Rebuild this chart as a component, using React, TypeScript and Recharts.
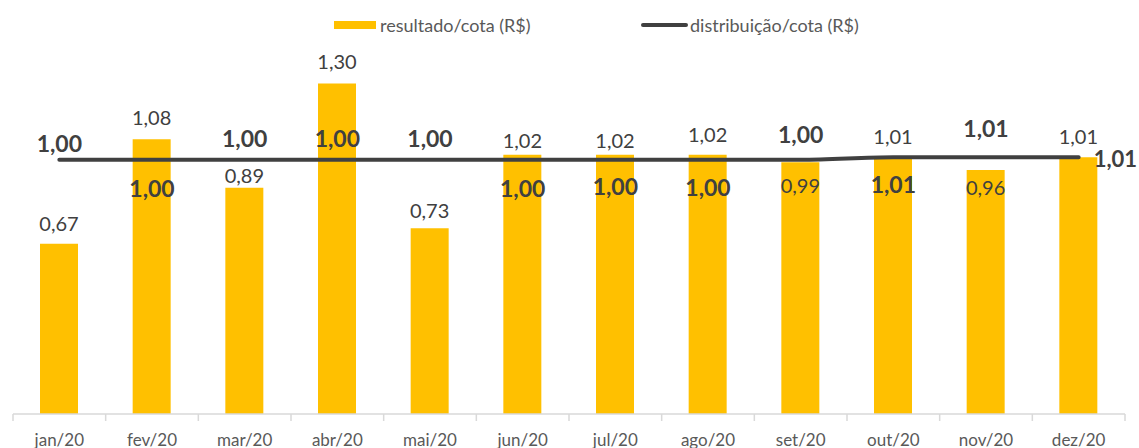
import React from 'react';
import { ComposedChart, Bar, Line, XAxis, YAxis, LabelList } from 'recharts';

const months = ['jan/20', 'fev/20', 'mar/20', 'abr/20', 'mai/20', 'jun/20', 'jul/20', 'ago/20', 'set/20', 'out/20', 'nov/20', 'dez/20'];
const resultadoCota = [0.67, 1.08, 0.89, 1.3, 0.73, 1.02, 1.02, 1.02, 0.99, 1.01, 0.96, 1.01];
const distribuicaoCota = [1.0, 1.0, 1.0, 1.0, 1.0, 1.0, 1.0, 1.0, 1.0, 1.01, 1.01, 1.01];

// label placement (style only)
const barLabelDy = [-21, -22, -13, -22, -18, -15, -15, -21, 23, -21, 17, -21];
const lineLabelOffset: [number, number, string][] = [
  [0, -17, 'middle'], [0, 28, 'middle'], [0, -22, 'middle'], [0, -22, 'middle'],
  [0, -22, 'middle'], [0, 28, 'middle'], [0, 26, 'middle'], [0, 27, 'middle'],
  [0, -26, 'middle'], [0, 27, 'middle'], [0, -29, 'middle'], [15, 1, 'start'],
];

const data = months.map((m, i) => ({ month: m, resultado: resultadoCota[i], distribuicao: distribuicaoCota[i] }));

const W = 1139;
const H = 448;
const M = { top: 58, right: 14, left: 13, bottom: 0 };
const XH = 34;
const AXIS_Y = H - M.bottom - XH;
const BAND = (W - M.left - M.right) / months.length;
const FONT = 'Lato, "Open Sans", sans-serif';
const BAR = '#FFC000';
const LINE = '#404040';

const fmt = (v: number) => v.toFixed(2).replace('.', ',');

const BarLabel = (props: any) => {
  const x = props.x ?? props.viewBox?.x;
  const y = props.y ?? props.viewBox?.y;
  const w = props.width ?? props.viewBox?.width ?? 0;
  const i = props.index;
  return (
    <text x={x + w / 2} y={y + barLabelDy[i]} textAnchor="middle" dominantBaseline="central"
      fontFamily={FONT} fontSize={20} fill="#404040">{fmt(props.value)}</text>
  );
};

const LineLabel = (props: any) => {
  const x = props.x ?? props.viewBox?.x;
  const y = props.y ?? props.viewBox?.y;
  const i = props.index;
  const [dx, dy, anchor] = lineLabelOffset[i];
  const last = i === months.length - 1;
  return (
    <text x={x + dx} y={y + dy} textAnchor={anchor as any} dominantBaseline="central"
      fontFamily={FONT} fontSize={last ? 22 : 23} fontWeight={700} fill="#404040">{fmt(props.value)}</text>
  );
};

const Tick = (props: any) => {
  const { x, payload, index } = props;
  const last = index === months.length - 1;
  return (
    <g>
      <line x1={x - BAND / 2} x2={x - BAND / 2} y1={AXIS_Y} y2={AXIS_Y + 7} stroke="#d9d9d9" strokeWidth={1.5} />
      {last && <line x1={x + BAND / 2} x2={x + BAND / 2} y1={AXIS_Y} y2={AXIS_Y + 7} stroke="#d9d9d9" strokeWidth={1.5} />}
      <text x={x} y={AXIS_Y + 25} textAnchor="middle" dominantBaseline="central" fontFamily={FONT} fontSize={17} fill="#595959">
        {payload.value}
      </text>
    </g>
  );
};

export default function App() {
  return (
    <div style={{ position: 'absolute', left: 0, top: 0, width: W, height: H, background: '#fff' }}>
      <ComposedChart width={W} height={H} data={data} margin={M}>
        <XAxis dataKey="month" height={XH} axisLine={{ stroke: '#d9d9d9', strokeWidth: 1.5 }} tickLine={false} tick={<Tick />} interval={0} />
        <YAxis hide domain={[0, 1.4]} />
        <Bar dataKey="resultado" fill={BAR} barSize={38} isAnimationActive={false}>
          <LabelList dataKey="resultado" content={<BarLabel />} />
        </Bar>
        <Line dataKey="distribuicao" type="monotone" stroke={LINE} strokeWidth={4} strokeLinecap="round" dot={false} isAnimationActive={false}>
          <LabelList dataKey="distribuicao" content={<LineLabel />} />
        </Line>
      </ComposedChart>
      <div style={{ position: 'absolute', left: 334, top: 21, width: 42, height: 8, background: BAR }} />
      <div style={{ position: 'absolute', left: 380, top: 13, fontFamily: FONT, fontSize: 18, lineHeight: '24px', color: '#595959', whiteSpace: 'nowrap' }}>resultado/cota (R$)</div>
      <div style={{ position: 'absolute', left: 641, top: 23, width: 47, height: 4, borderRadius: 2, background: LINE }} />
      <div style={{ position: 'absolute', left: 690, top: 13, fontFamily: FONT, fontSize: 18, lineHeight: '24px', color: '#595959', whiteSpace: 'nowrap' }}>distribuição/cota (R$)</div>
    </div>
  );
}
